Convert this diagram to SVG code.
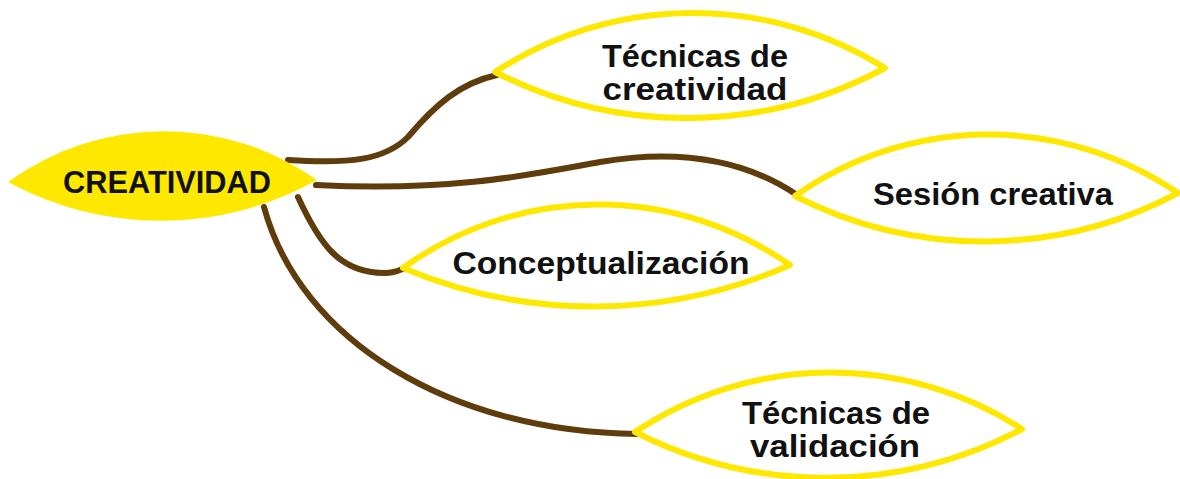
<svg xmlns="http://www.w3.org/2000/svg" width="1180" height="479" viewBox="0 0 1180 479">
<style>
.conn{fill:none;stroke:#5E3C0C;stroke-width:6;stroke-linecap:round}
.leaf{fill:#FFFFFF;stroke:#FFE800;stroke-width:6;stroke-linejoin:round}
.root{fill:#FFE800;stroke:none}
.t{font-family:"Liberation Sans",Arial,sans-serif;font-weight:bold;font-size:31px;fill:#111;text-anchor:middle}
</style>
<rect width="1180" height="479" fill="#FFFFFF"/>
<g id="connectors">
<path class="conn" d="M288,160 C350,164 385,160 408,137 C435,105 460,83 497,75"/>
<path class="conn" d="M316,185 C450,192 530,175 600,162 C700,145 760,170 797,195"/>
<path class="conn" d="M298,197 C320,245 340,273 385,273 C395,273 400,270 405,268"/>
<path class="conn" d="M264,207 C300,340 450,432 637,434"/>
</g>
<g id="creatividad">
<path class="root" d="M8,182 A265,265 0 0,1 317,180 A320,320 0 0,1 8,182 Z"/>
<text class="t" x="167" y="193" textLength="208" lengthAdjust="spacingAndGlyphs">CREATIVIDAD</text>
</g>
<g id="tecnicas-creatividad">
<path class="leaf" d="M495,72 A362,362 0 0,1 885,68 A420,420 0 0,1 495,72 Z"/>
<text class="t" x="695" y="67" textLength="186" lengthAdjust="spacingAndGlyphs">Técnicas de</text>
<text class="t" x="695" y="100" textLength="185" lengthAdjust="spacingAndGlyphs">creatividad</text>
</g>
<g id="sesion-creativa">
<path class="leaf" d="M795,196 A336,336 0 0,1 1178,193 A414,414 0 0,1 795,196 Z"/>
<text class="t" x="993" y="205" textLength="240" lengthAdjust="spacingAndGlyphs">Sesión creativa</text>
</g>
<g id="conceptualizacion">
<path class="leaf" d="M403,268 A333,333 0 0,1 790,265 A488,488 0 0,1 403,268 Z"/>
<text class="t" x="601" y="274" textLength="297" lengthAdjust="spacingAndGlyphs">Conceptualización</text>
</g>
<g id="tecnicas-validacion">
<path class="leaf" d="M635,432 A352,352 0 0,1 1022,429 A420,420 0 0,1 635,432 Z"/>
<text class="t" x="836" y="424" textLength="188" lengthAdjust="spacingAndGlyphs">Técnicas de</text>
<text class="t" x="835" y="457" textLength="170" lengthAdjust="spacingAndGlyphs">validación</text>
</g>
</svg>
